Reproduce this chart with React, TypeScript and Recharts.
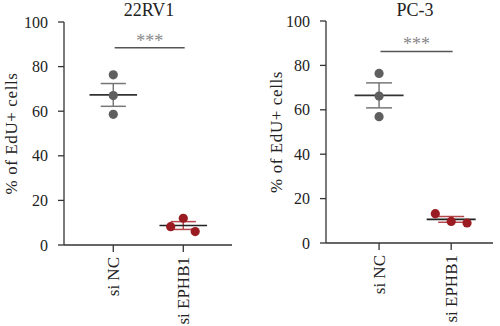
import { ComposedChart, Scatter, XAxis, YAxis, ReferenceLine } from "recharts";

const categories = ["si NC", "si EPHB1"];
const yTicks = [0, 20, 40, 60, 80, 100];

// 22RV1 panel
const rv1Title = "22RV1";
const rv1NC = [76.3, 67.0, 58.6];
const rv1NCx = [1, 1, 1];
const rv1EPHB1 = [8.2, 12.0, 6.0];
const rv1EPHB1x = [1.82, 2.0, 2.17];
const rv1Sig = 88.4;

// PC-3 panel
const pc3Title = "PC-3";
const pc3NC = [76.4, 66.2, 56.9];
const pc3NCx = [1, 1, 1];
const pc3EPHB1 = [13.2, 9.7, 9.0];
const pc3EPHB1x = [1.78, 2.0, 2.22];
const pc3Sig = 86.3;

const FONT = "'Liberation Serif', 'Times New Roman', serif";
const GREY = "#5f5f5f";
const RED = "#9a1c22";

const mean = (a: number[]) => a.reduce((s, v) => s + v, 0) / a.length;
const sem = (a: number[]) => {
  const m = mean(a);
  const v = a.reduce((s, x) => s + (x - m) * (x - m), 0) / (a.length - 1);
  return Math.sqrt(v / a.length);
};

const dot = (color: string) => (p: any) =>
  <circle cx={p.cx} cy={p.cy} r={4.6} fill={color} />;

const XTick = (p: any) => {
  const { x, y, payload } = p;
  return (
    <text
      x={x}
      y={y}
      transform={`rotate(-90 ${x} ${y})`}
      textAnchor="end"
      dy="0.33em"
      fontSize={17}
      fontFamily={FONT}
      fill="#222"
    >
      {categories[payload.value - 1]}
    </text>
  );
};

function summary(cx: number, vals: number[], meanColor: string, semColor: string, key: string) {
  const m = mean(vals);
  const s = sem(vals);
  return [
    <ReferenceLine key={key + "v"} segment={[{ x: cx, y: m - s }, { x: cx, y: m + s }]} stroke={semColor} strokeWidth={1.5} />,
    <ReferenceLine key={key + "h1"} segment={[{ x: cx - 0.18, y: m + s }, { x: cx + 0.18, y: m + s }]} stroke={semColor} strokeWidth={1.5} />,
    <ReferenceLine key={key + "h2"} segment={[{ x: cx - 0.18, y: m - s }, { x: cx + 0.18, y: m - s }]} stroke={semColor} strokeWidth={1.5} />,
    <ReferenceLine key={key + "m"} segment={[{ x: cx - 0.34, y: m }, { x: cx + 0.34, y: m }]} stroke={meanColor} strokeWidth={1.6} />,
  ];
}

function Panel(props: {
  title: string;
  nc: number[];
  ncx: number[];
  ep: number[];
  epx: number[];
  sig: number;
  domain: [number, number];
  margin: { top: number; right: number; bottom: number; left: number };
  xHeight: number;
  yWidth: number;
  labelOffset: number;
  titleX: number;
}) {
  const ncData = props.nc.map((y, i) => ({ x: props.ncx[i], y }));
  const epData = props.ep.map((y, i) => ({ x: props.epx[i], y }));
  return (
    <div style={{ position: "relative", width: 250, height: 326 }}>
      <div
        style={{
          position: "absolute",
          left: props.titleX - 50,
          width: 100,
          top: -1,
          textAlign: "center",
          fontFamily: FONT,
          fontSize: 18,
          lineHeight: "22px",
          color: "#222",
        }}
      >
        {props.title}
      </div>
      <ComposedChart width={250} height={326} margin={props.margin}>
        <XAxis
          type="number"
          dataKey="x"
          domain={props.domain}
          ticks={[1, 2]}
          allowDataOverflow
          height={props.xHeight}
          tick={<XTick />}
          tickSize={7}
          tickMargin={5}
          stroke="#333"
          strokeWidth={1.3}
        />
        <YAxis
          type="number"
          dataKey="y"
          domain={[0, 100]}
          ticks={yTicks}
          width={props.yWidth}
          tickSize={6}
          tickMargin={10}
          stroke="#333"
          strokeWidth={1.3}
          tick={{ fill: "#222", fontSize: 16, fontFamily: FONT }}
          label={{
            value: "% of EdU+ cells",
            angle: -90,
            position: "insideLeft",
            offset: props.labelOffset,
            style: { textAnchor: "middle", fontFamily: FONT, fontSize: 17, letterSpacing: 0.6, fill: "#222" },
          }}
        />
        {summary(1, props.nc, "#333", "#777", "nc")}
        {summary(2, props.ep, "#222", "#b5474c", "ep")}
        <Scatter data={ncData} dataKey="y" shape={dot(GREY)} isAnimationActive={false} />
        <Scatter data={epData} dataKey="y" shape={dot(RED)} isAnimationActive={false} />
        <ReferenceLine
          segment={[{ x: 1.02, y: props.sig }, { x: 2.02, y: props.sig }]}
          stroke="#555"
          strokeWidth={1.5}
          label={{ value: "***", position: "top", fill: "#888", fontSize: 18, fontFamily: FONT, offset: 1 }}
        />
      </ComposedChart>
    </div>
  );
}

export default function App() {
  return (
    <div style={{ display: "flex", width: 500, height: 326, background: "#fff" }}>
      <style>{"body{margin:0}"}</style>
      <Panel
        title={rv1Title}
        nc={rv1NC}
        ncx={rv1NCx}
        ep={rv1EPHB1}
        epx={rv1EPHB1x}
        sig={rv1Sig}
        domain={[0.296, 2.696]}
        margin={{ top: 22, right: 18, bottom: 0, left: 0 }}
        xHeight={81}
        yWidth={64}
        labelOffset={11}
        titleX={149}
      />
      <Panel
        title={pc3Title}
        nc={pc3NC}
        ncx={pc3NCx}
        ep={pc3EPHB1}
        epx={pc3EPHB1x}
        sig={pc3Sig}
        domain={[0.264, 2.58]}
        margin={{ top: 21, right: 7, bottom: 0, left: 0 }}
        xHeight={83}
        yWidth={76}
        labelOffset={26}
        titleX={165}
      />
    </div>
  );
}
